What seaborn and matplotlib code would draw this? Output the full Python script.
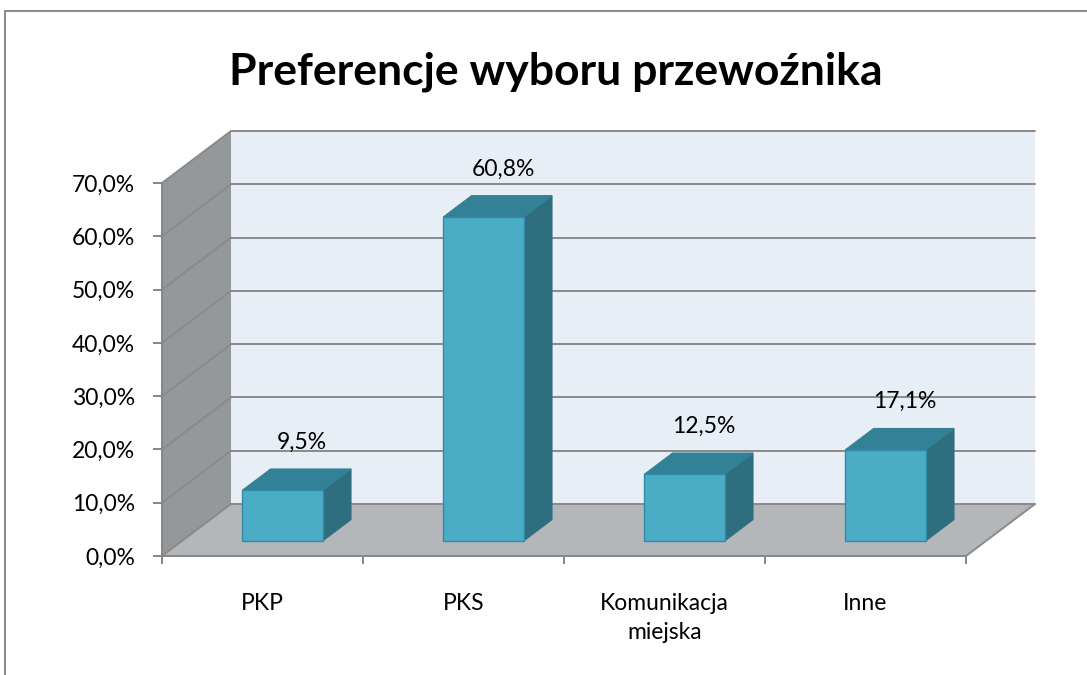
import matplotlib
matplotlib.use('Agg')
import matplotlib.pyplot as plt
import seaborn as sns
import pandas as pd
from matplotlib.patches import Polygon, Rectangle
from matplotlib.lines import Line2D

# ---- data ----
categories = ["PKP", "PKS", "Komunikacja\nmiejska", "Inne"]
values = [9.5, 60.8, 12.5, 17.1]
value_labels = ["9,5%", "60,8%", "12,5%", "17,1%"]
y_ticks = [0, 10, 20, 30, 40, 50, 60, 70]
y_tick_labels = ["0,0%", "10,0%", "20,0%", "30,0%", "40,0%", "50,0%", "60,0%", "70,0%"]
title = "Preferencje wyboru przewoźnika"

sns.set_theme(style="white")
plt.rcParams['font.family'] = ['Lato', 'DejaVu Sans']
plt.rcParams['text.color'] = 'black'
plt.rcParams['xtick.color'] = 'black'
plt.rcParams['ytick.color'] = 'black'

W, H = 1087, 675
fig = plt.figure(figsize=(W / 100, H / 100), dpi=100)
fig.patch.set_facecolor("white")
ax = fig.add_axes([162 / W, (H - 556) / H, (966 - 162) / W, (556 - 183) / H])
ax.patch.set_alpha(0)

df = pd.DataFrame({"cat": categories, "val": values})
sns.barplot(data=df, x="cat", y="val", width=0.4, color="#4bacc6",
            saturation=1, ax=ax, zorder=5)
bars = list(ax.patches)

ax.set_xlim(-0.5, 3.5)
ax.set_ylim(y_ticks[0], y_ticks[-1])
ymax = y_ticks[-1]

# 3D depth (data units)
DX = 69 / 201.0
DY = 52 / ((556 - 183) / ymax)
F0 = 0.29   # front of bars (fraction of depth)
FB = 0.41   # bar depth (fraction of depth)

grid_c = "#8a8a8a"
x0w, x1w = -0.5, 3.5
# walls
ax.add_patch(Polygon([(x0w + DX, DY), (x1w + DX, DY), (x1w + DX, ymax + DY), (x0w + DX, ymax + DY)],
                     closed=True, facecolor="#e8eef6", edgecolor="none", zorder=0, clip_on=False))
ax.add_patch(Polygon([(x0w, 0), (x0w + DX, DY), (x0w + DX, ymax + DY), (x0w, ymax)],
                     closed=True, facecolor="#94989b", edgecolor="none", zorder=0, clip_on=False))
ax.add_patch(Polygon([(x0w, 0), (x1w, 0), (x1w + DX, DY), (x0w + DX, DY)],
                     closed=True, facecolor="#b4b7ba", edgecolor="none", zorder=0, clip_on=False))
for v in y_ticks:
    ax.add_line(Line2D([x0w, x0w + DX], [v, v + DY], color=grid_c, lw=1.4, zorder=1, clip_on=False))
    ax.add_line(Line2D([x0w + DX, x1w + DX], [v + DY, v + DY], color=grid_c, lw=1.4, zorder=1, clip_on=False))
ax.add_line(Line2D([x1w, x1w + DX], [0, DY], color=grid_c, lw=1.4, zorder=1, clip_on=False))

# bars: shift front faces into depth, add top and side faces
top_c = "#338196"
side_c = "#2f6e7f"
edge_c = "#2f8ca6"
for p, lab in zip(bars, value_labels):
    bx, bw, bh = p.get_x(), p.get_width(), p.get_height()
    fx, fy = bx + F0 * DX, F0 * DY
    p.set_x(fx)
    p.set_y(fy)
    p.set_edgecolor(edge_c)
    p.set_linewidth(1.0)
    p.set_clip_on(False)
    p.set_zorder(6)
    ddx, ddy = FB * DX, FB * DY
    side = Polygon([(fx + bw, fy), (fx + bw + ddx, fy + ddy), (fx + bw + ddx, fy + bh + ddy), (fx + bw, fy + bh)],
                   closed=True, facecolor=side_c, edgecolor=side_c, lw=0.8, zorder=5, clip_on=False)
    top = Polygon([(fx, fy + bh), (fx + bw, fy + bh), (fx + bw + ddx, fy + bh + ddy), (fx + ddx, fy + bh + ddy)],
                  closed=True, facecolor=top_c, edgecolor=top_c, lw=0.8, zorder=5, clip_on=False)
    ax.add_patch(side)
    ax.add_patch(top)
    ax.text(fx + bw / 2 + 0.55 * ddx + 0.02, fy + bh + ddy + 5.0, lab, ha="center", va="center",
            fontsize=16.5, color="black", zorder=7)

# axes styling
for s in ["top", "right"]:
    ax.spines[s].set_visible(False)
for s in ["left", "bottom"]:
    ax.spines[s].set_color("#868686")
    ax.spines[s].set_linewidth(1.4)
    ax.spines[s].set_zorder(3)
ax.set_xlabel("")
ax.set_ylabel("")
ax.set_yticks(y_ticks, y_tick_labels)
ax.tick_params(axis="y", left=True, length=6.5, width=1.4, color="#868686", pad=13,
               labelsize=16.5, labelcolor="black")
ax.set_xticks(range(len(categories)), categories)
ax.set_xticks([i - 0.5 for i in range(len(categories) + 1)], minor=True)
ax.tick_params(axis="x", which="major", bottom=False, length=0, pad=27, labelsize=16.5,
               labelcolor="black")
ax.tick_params(axis="x", which="minor", bottom=True, length=6, width=1.4, color="#868686")
for t in ax.get_xticklabels():
    t.set_linespacing(1.45)
ax.grid(False)

fig.text(556 / W, 1 - 84 / H, title, ha="center", va="baseline", fontsize=32,
         fontweight="bold", color="black")

fig.add_artist(Rectangle((4.5 / W, -0.1), 2, 1 - 11 / H + 0.1, transform=fig.transFigure,
                         fill=False, edgecolor="#8c8c8c", lw=1.5))

fig.savefig("out.png", dpi=100)
